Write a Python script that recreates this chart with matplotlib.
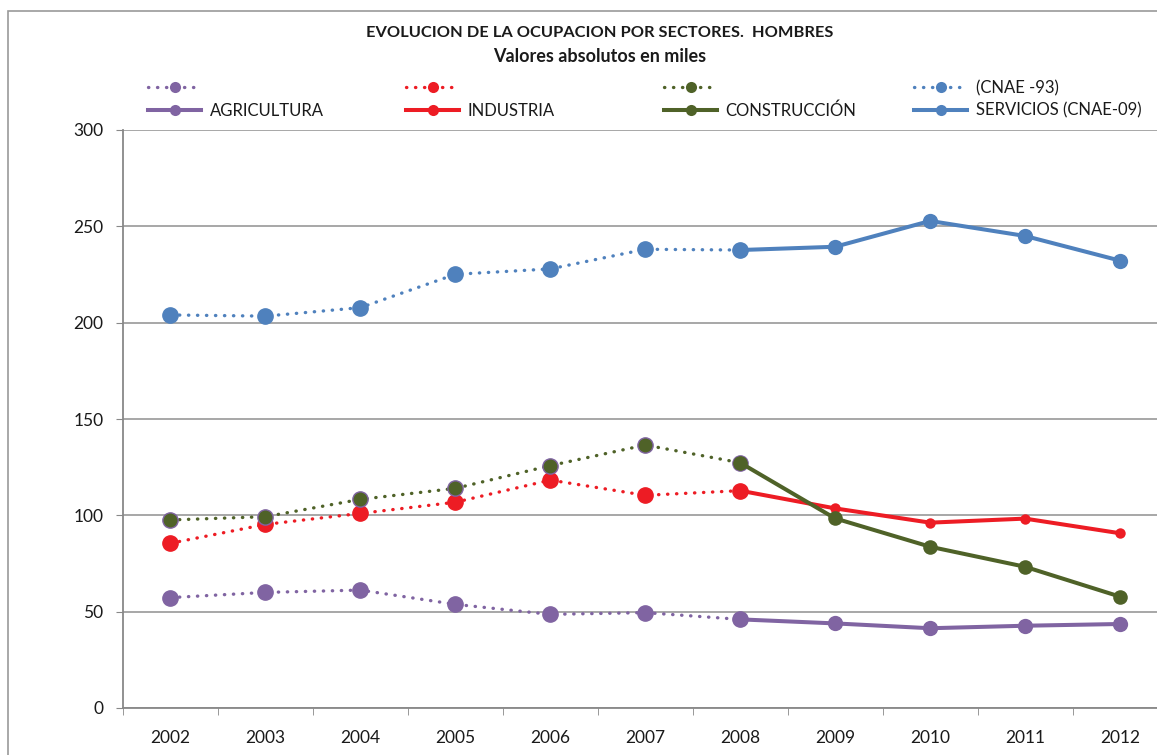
import numpy as np
import matplotlib.pyplot as plt
from matplotlib.lines import Line2D
from matplotlib.patches import Rectangle

plt.rcParams['font.family'] = ['Lato', 'DejaVu Sans']

years = ['2002', '2003', '2004', '2005', '2006', '2007', '2008', '2009', '2010', '2011', '2012']

# miles de personas (hombres)
agricultura = [57.3, 60.0, 61.2, 53.8, 48.6, 49.5, 46.0, 43.9, 41.4, 42.7, 43.6]
industria = [85.5, 95.3, 101.0, 106.8, 118.3, 110.4, 112.8, 103.6, 96.2, 98.3, 90.7]
construccion = [97.6, 99.3, 108.3, 114.0, 125.8, 136.5, 127.3, 98.4, 83.7, 73.3, 57.8]
servicios = [204.0, 203.4, 207.8, 225.1, 227.9, 238.1, 237.7, 239.4, 252.8, 245.0, 232.2]

labels_dot = ['', '', '', '(CNAE -93)']
labels_solid = ['AGRICULTURA', 'INDUSTRIA', 'CONSTRUCCIÓN', 'SERVICIOS (CNAE-09)']
colors = ['#8064A2', '#ED1C24', '#4F6228', '#4F81BD']

series = [agricultura, industria, construccion, servicios]
solid_ms = [11, 7.5, 10.5, 11]

W, H = 1157, 755
fig = plt.figure(figsize=(W / 100, H / 100), dpi=100)
ax = fig.add_axes([123 / W, 1 - 708 / H, (1167.5 - 123) / W, (708 - 130) / H])

x = np.arange(len(years))
cut = 6  # 2008: cambio CNAE-93 -> CNAE-09
dots = (0, (0.1, 2.6))

for vals, c in zip(series, colors):
    v = np.array(vals)
    mec = '#8064A2' if c == '#4F6228' else c
    ax.plot(x[:cut + 1], v[:cut + 1], linestyle=dots, dash_capstyle='round', lw=2.4,
            color=c, marker='o', ms=11, mec=mec, mew=1, zorder=2)

for vals, c, ms in zip(series, colors, solid_ms):
    v = np.array(vals)
    ax.plot(x[cut:], v[cut:], '-', lw=2.9, color=c, marker='o', ms=ms, mew=0, zorder=3)

ax.set_xlim(-0.5, len(years) - 0.5)
ax.set_ylim(0, 300)
ax.set_yticks(np.arange(0, 301, 50))
ax.set_xticks(x)
ax.set_xticklabels(years)
ax.set_xticks(np.arange(-0.5, len(years), 1), minor=True)
ax.tick_params(axis='x', which='major', length=0, pad=16, labelsize=12.5, labelcolor='#1a1a1a')
ax.tick_params(axis='x', which='minor', length=5, color='#888888', direction='out')
ax.tick_params(axis='y', length=5, color='#888888', direction='out', pad=9,
               labelsize=12.5, labelcolor='#1a1a1a')
ax.grid(axis='y', color='#a0a0a0', lw=1.3)
ax.set_axisbelow(True)
for s in ['top', 'right']:
    ax.spines[s].set_visible(False)
for s in ['left', 'bottom']:
    ax.spines[s].set_color('#888888')
    ax.spines[s].set_linewidth(1.3)

fig.text(600 / W, 1 - 33 / H, 'EVOLUCION DE LA OCUPACION POR SECTORES.  HOMBRES',
         ha='center', va='center', fontsize=11.8, fontweight='bold', color='#1a1a1a')
fig.text(600 / W, 1 - 56 / H, 'Valores absolutos en miles',
         ha='center', va='center', fontsize=13, fontweight='bold', color='#1a1a1a')

# leyenda: una columna por sector
col_x = [148, 406, 664, 914]
for i, c in enumerate(colors):
    h_dot = Line2D([], [], linestyle=dots, dash_capstyle='round', lw=2.4, color=c,
                   marker='o', ms=8, mew=0)
    h_sol = Line2D([], [], linestyle='-', lw=2.9, color=c, marker='o', ms=8, mew=0)
    leg = fig.legend([h_dot, h_sol], [labels_dot[i], labels_solid[i]],
                     loc='upper left', bbox_to_anchor=(col_x[i] / W, 1 - 80 / H),
                     frameon=False, fontsize=12, handlelength=3.2, handletextpad=0.5,
                     labelspacing=0.4, borderpad=0, borderaxespad=0)
    for t in leg.get_texts():
        t.set_color('#1a1a1a')

fig.add_artist(Rectangle((8 / W, -0.1), 1.2, 1.1 - 11 / H, transform=fig.transFigure,
                         fill=False, edgecolor='#9a9a9a', lw=1.2))

fig.savefig('out.png', dpi=100)
